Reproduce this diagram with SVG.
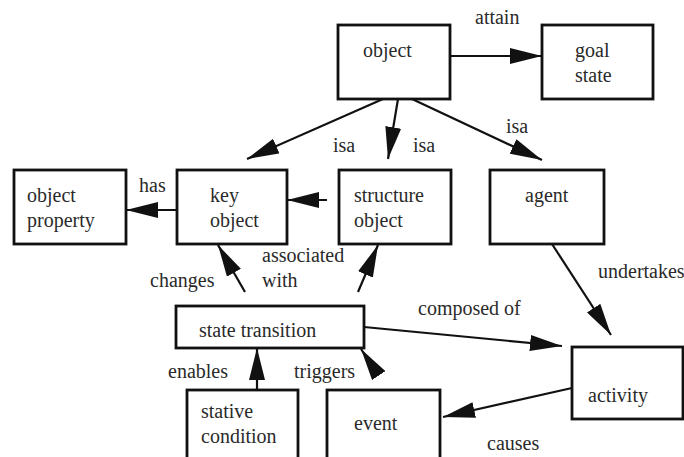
<svg xmlns="http://www.w3.org/2000/svg" width="684" height="457" viewBox="0 0 684 457">
<style>
  .box { fill: #ffffff; stroke: #111111; stroke-width: 2.8; }
  .edge { fill: none; stroke: #111111; stroke-width: 2.2; marker-end: url(#arrow); }
  text { font-family: "Liberation Serif", "Times New Roman", serif; font-size: 20px; fill: #2a2a2a; }
</style>
<defs>
  <marker id="arrow" markerUnits="userSpaceOnUse" markerWidth="32" markerHeight="16" refX="32" refY="8" orient="auto" viewBox="0 0 32 16">
    <path d="M0,0 L32,8 L0,16 z" fill="#111111"/>
  </marker>
</defs>
<rect width="684" height="457" fill="#ffffff"/>

<g id="connectors">
  <line class="edge" x1="450" y1="56" x2="542" y2="56"/>
  <line class="edge" x1="383" y1="99" x2="247" y2="159"/>
  <line class="edge" x1="398" y1="99" x2="388" y2="159"/>
  <line class="edge" x1="412" y1="99" x2="542" y2="160"/>
  <line class="edge" x1="327" y1="200" x2="287" y2="200"/>
  <line class="edge" x1="177" y1="210" x2="126" y2="210"/>
  <line class="edge" x1="245" y1="292" x2="218" y2="245"/>
  <line class="edge" x1="358" y1="292" x2="378" y2="245"/>
  <line class="edge" x1="552" y1="244" x2="611" y2="335"/>
  <line class="edge" x1="364" y1="327" x2="562" y2="346"/>
  <line class="edge" x1="257" y1="390" x2="257" y2="348"/>
  <line class="edge" x1="377" y1="373" x2="361" y2="349"/>
  <line class="edge" x1="572" y1="388" x2="443" y2="417"/>
  <text x="475" y="24">attain</text>
  <text x="333" y="152">isa</text>
  <text x="413" y="152">isa</text>
  <text x="506" y="133">isa</text>
  <text x="139" y="192">has</text>
  <text x="150" y="287">changes</text>
  <text x="262" y="262">associated</text>
  <text x="262" y="287">with</text>
  <text x="598" y="278">undertakes</text>
  <text x="418" y="315">composed of</text>
  <text x="168" y="378">enables</text>
  <text x="294" y="378">triggers</text>
  <text x="487" y="450">causes</text>
</g>

<g id="object">
  <rect class="box" x="338" y="25" width="112" height="74"/>
  <text x="363" y="57">object</text>
</g>
<g id="goal-state">
  <rect class="box" x="542" y="25" width="111" height="74"/>
  <text x="575" y="57">goal</text>
  <text x="575" y="82">state</text>
</g>
<g id="object-property">
  <rect class="box" x="14" y="170" width="112" height="74"/>
  <text x="27" y="202">object</text>
  <text x="27" y="227">property</text>
</g>
<g id="key-object">
  <rect class="box" x="177" y="170" width="110" height="74"/>
  <text x="210" y="202">key</text>
  <text x="210" y="227">object</text>
</g>
<g id="structure-object">
  <rect class="box" x="339" y="170" width="112" height="74"/>
  <text x="354" y="202">structure</text>
  <text x="354" y="227">object</text>
</g>
<g id="agent">
  <rect class="box" x="490" y="170" width="114" height="74"/>
  <text x="525" y="202">agent</text>
</g>
<g id="state-transition">
  <rect class="box" x="176" y="306" width="188" height="42"/>
  <text x="199" y="337">state transition</text>
</g>
<g id="activity">
  <rect class="box" x="572" y="347" width="111" height="72"/>
  <text x="588" y="402">activity</text>
</g>
<g id="stative-condition">
  <rect class="box" x="187" y="390" width="111" height="72"/>
  <text x="201" y="418">stative</text>
  <text x="201" y="443">condition</text>
</g>
<g id="event">
  <rect class="box" x="327" y="390" width="113" height="72"/>
  <text x="354" y="430">event</text>
</g>
</svg>
